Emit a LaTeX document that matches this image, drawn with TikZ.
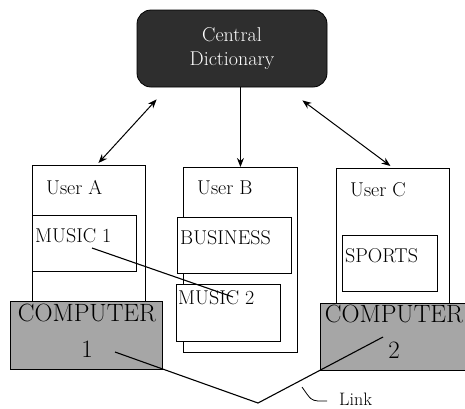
\documentclass[tikz,border=0pt]{standalone}
\usetikzlibrary{arrows.meta,calc}
\begin{document}
\begin{tikzpicture}[x=1pt,y=-1pt,
  box/.style={draw,line width=0.9pt,fill=white,inner sep=0pt,anchor=north west},
  lbl/.style={font=\fontsize{20}{22}\selectfont,inner sep=0pt,anchor=west},
  comp/.style={draw,line width=0.9pt,fill=black!35,inner sep=0pt,anchor=north west},
  clbl/.style={font=\fontsize{25}{36}\selectfont,align=center,inner sep=0pt},
  conn/.style={line width=1.1pt},
  arr/.style={line width=1pt,-{Stealth[length=9pt,width=7pt]}},
  darr/.style={line width=1pt,{Stealth[length=9pt,width=7pt]}-{Stealth[length=9pt,width=7pt]}}]
\useasboundingbox (0,0) rectangle (465,408);
% central dictionary
\node[draw,line width=0.8pt,fill=black!82,rounded corners=14pt,minimum width=190pt,minimum height=77pt,
  text=white,align=center,font=\fontsize{20}{24}\selectfont] (central) at (232,48.5) {Central\\Dictionary};
% User A
\node[box,minimum width=113pt,minimum height=140pt] (userA) at (32,165) {};
\node[lbl] (userAl) at (46,188) {User A};
\node[box,minimum width=104pt,minimum height=56pt] (music1) at (32,215) {};
\node[lbl] (music1l) at (35,236) {MUSIC 1};
% User B
\node[box,minimum width=114pt,minimum height=185pt] (userB) at (183,167) {};
\node[lbl] (userBl) at (197,188) {User B};
\node[box,minimum width=114pt,minimum height=56pt] (business) at (177,217) {};
\node[lbl] (businessl) at (180,238) {BUSINESS};
\node[box,minimum width=104pt,minimum height=57pt] (music2) at (176,284) {};
\node[lbl] (music2l) at (178,298) {MUSIC 2};
% User C
\node[box,minimum width=113pt,minimum height=138pt] (userC) at (336,168) {};
\node[lbl] (userCl) at (350,190) {User C};
\node[box,minimum width=95pt,minimum height=56pt] (sports) at (342,235) {};
\node[lbl] (sportsl) at (345,256) {SPORTS};
% computers
\node[comp,minimum width=152pt,minimum height=68pt] (comp1) at (10,301) {};
\node[clbl] (comp1l) at (87,331) {COMPUTER\\1};
\node[comp,minimum width=147pt,minimum height=67pt] (comp2) at (320,303) {};
\node[clbl] (comp2l) at (394,332) {COMPUTER\\2};
% arrows
\draw[darr] ($(central.south west)+(20,12)$) -- ($(userA.north)+(9.5,-2)$);
\draw[arr] (central.south -| userB.north) -- (userB.north);
\draw[darr] ($(central.south east)+(-25,13)$) -- ($(userC.north)+(-2.5,-2)$);
% links
\coordinate (m1) at (92,248);
\coordinate (m2) at (233,297);
\draw[conn] (m1) -- (m2);
\coordinate (c1) at (115,352);
\coordinate (lk) at (258,403);
\coordinate (c2) at (383,337);
\draw[conn] (c1) -- (lk) -- (c2);
\coordinate (ls) at (302,387);
\node[font=\fontsize{18}{20}\selectfont,inner sep=0pt,anchor=west] (linkl) at (339,399) {Link};
\draw[line width=0.8pt] (ls) .. controls (311,400) .. (318,401) -- (327,401);
\end{tikzpicture}
\end{document}
